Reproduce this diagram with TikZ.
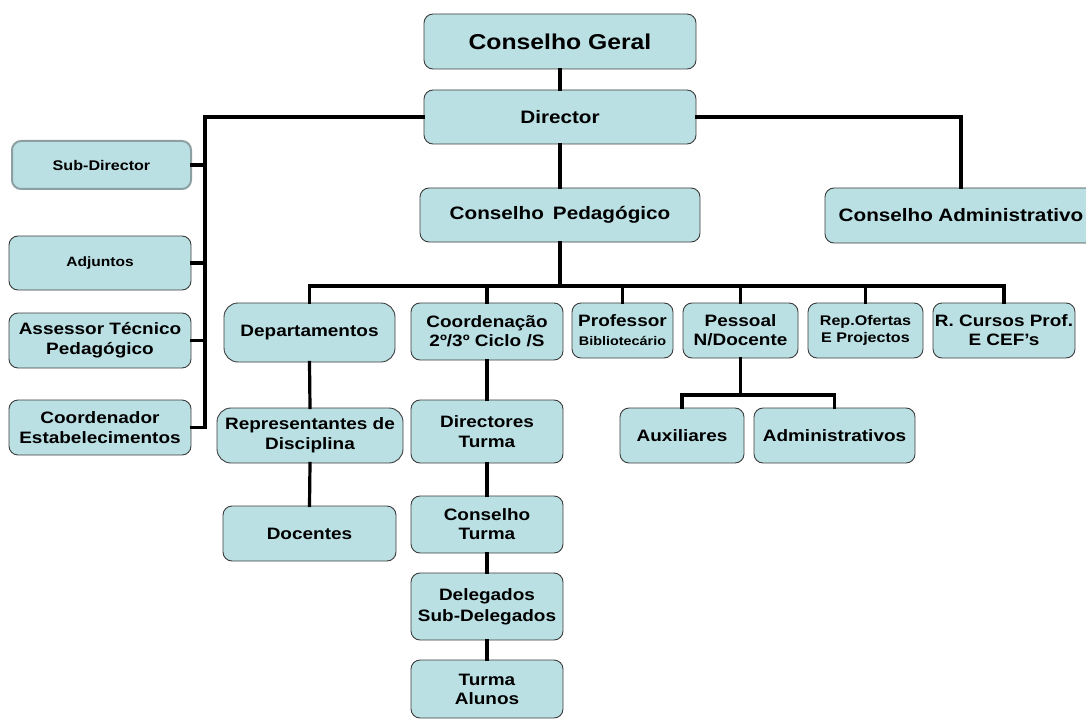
\documentclass[tikz,border=0pt]{standalone}
\usepackage{fontspec}
\setmainfont{Liberation Sans}[FakeStretch=1.15]
\definecolor{boxfill}{RGB}{186,224,228}
\definecolor{boxline}{RGB}{60,60,60}
\definecolor{subline}{RGB}{140,160,163}
\begin{document}
\begin{tikzpicture}[x=1pt,y=-1pt,
  box/.style={draw=boxline,line width=0.9pt,fill=boxfill,rounded corners=9pt,
    align=center,inner sep=0pt,font=\bfseries\fontsize{16.5}{20}\selectfont},
  conn/.style={line width=3.2pt,line cap=rect}]
\useasboundingbox (0,0) rectangle (1086,722);
\tikzset{bx/.style n args={2}{minimum width=#1pt,minimum height=#2pt}}
% top
\node[box,bx={272}{55},font=\bfseries\fontsize{21.5}{24}\selectfont] (cg) at (560,41.5) {Conselho Geral};
\node[box,bx={272}{54},font=\bfseries\fontsize{18}{21}\selectfont] (dir) at (560,117) {Director};
\node[box,bx={280}{54},font=\bfseries\fontsize{18}{21}\selectfont] (cp) at (560,215) {Conselho\hspace{0.5em}Pedagógico};
\node[box,bx={272}{55},font=\bfseries\fontsize{18}{21}\selectfont] (ca) at (961,215.5) {Conselho\hspace{0.3em}Administrativo};
% left
\node[box,bx={179}{48},draw=subline,line width=2pt,font=\bfseries\fontsize{14}{16}\selectfont] (sub) at (101.5,165) {Sub-Director};
\node[box,bx={182}{54},font=\bfseries\fontsize{13.5}{16}\selectfont] (adj) at (100,263) {Adjuntos};
\node[box,bx={182}{55}] (ass) at (100,340.5) {Assessor Técnico\\Pedagógico};
\node[box,bx={182}{55}] (coo) at (100,427.5) {Coordenador\\Estabelecimentos};
% second row
\node[box,bx={171}{59},rounded corners=14pt] (dep) at (309.5,332.5) {Departamentos};
\node[box,bx={152}{57},font=\bfseries\fontsize{16.5}{19}\selectfont] (crd) at (487,331.5) {Coordenação\\2º/3º Ciclo /S};
\node[box,bx={101}{55},font=\bfseries\fontsize{16.5}{19}\selectfont] (pro) at (622.5,330.5) {Professor\\{\fontsize{12.5}{14}\selectfont Bibliotecário}};
\node[box,bx={115}{55},font=\bfseries\fontsize{16.5}{19}\selectfont] (pes) at (740.5,330.5) {Pessoal\\N/Docente};
\node[box,bx={115}{55},font=\bfseries\fontsize{14}{17}\selectfont] (rep) at (865.5,330.5) {Rep.Ofertas\\E Projectos};
\node[box,bx={142}{55},font=\bfseries\fontsize{16.5}{19}\selectfont] (rcu) at (1004,330.5) {R. Cursos Prof.\\E CEF’s};
% third row
\node[box,bx={186}{55},rounded corners=14pt] (rde) at (310,435.5) {Representantes de\\Disciplina};
\node[box,bx={152}{63}] (dtu) at (487,431.5) {Directores\\Turma};
\node[box,bx={124}{55}] (aux) at (682,435.5) {Auxiliares};
\node[box,bx={161}{55}] (adm) at (834.5,435.5) {Administrativos};
% lower
\node[box,bx={173}{55}] (doc) at (309.5,533.5) {Docentes};
\node[box,bx={152}{57},font=\bfseries\fontsize{16.5}{19}\selectfont] (ctu) at (487,524.5) {Conselho\\Turma};
\node[box,bx={152}{67},font=\bfseries\fontsize{16.5}{21}\selectfont] (del) at (487,606.5) {Delegados\\Sub-Delegados};
\node[box,bx={152}{58},font=\bfseries\fontsize{16.5}{19}\selectfont] (tal) at (487,689) {Turma\\Alunos};
% connectors
\coordinate (lb) at (205,117);
\coordinate (hb) at (560,286);
\coordinate (pb) at (740.5,395);
\draw[conn] (cg.south) -- (dir.north);
\draw[conn] (dir.west) -- (lb) -- (lb |- coo.east);
\foreach \n in {sub,adj,ass,coo} \draw[conn] (\n.east) -- (\n.east -| lb);
\draw[conn] (dir.east) -| (ca.north);
\draw[conn] (dir.south) -- (cp.north);
\draw[conn] (cp.south) -- (hb);
\draw[conn] (dep.north |- hb) -- (rcu.north |- hb);
\foreach \n in {dep,crd,pro,pes,rep,rcu} \draw[conn] (\n.north) -- (\n.north |- hb);
\draw[conn] (pes.south) -- (pb);
\draw[conn] (aux.north) -- (aux.north |- pb) -- (adm.north |- pb) -- (adm.north);
\draw[conn] (dep.south) -- (rde.north);
\draw[conn] (rde.south) -- (doc.north);
\draw[conn] (crd.south) -- (dtu.north);
\draw[conn] (dtu.south) -- (ctu.north);
\draw[conn] (ctu.south) -- (del.north);
\draw[conn] (del.south) -- (tal.north);
\end{tikzpicture}
\end{document}
